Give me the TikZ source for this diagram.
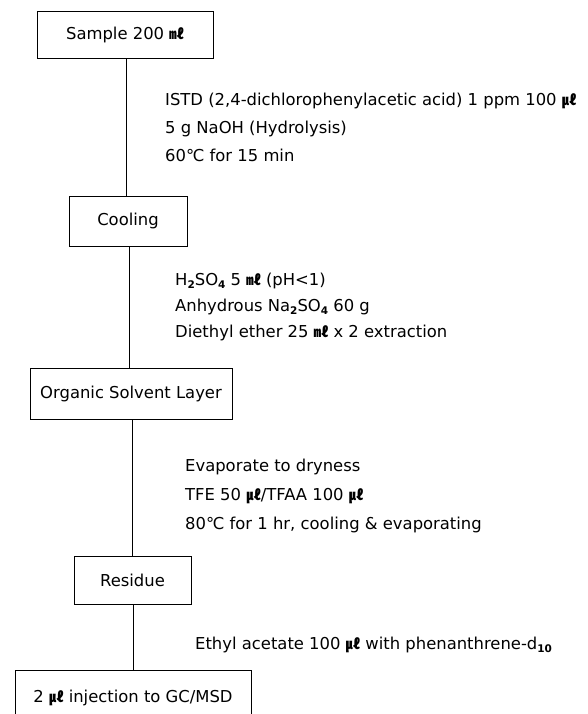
\documentclass[tikz,border=0pt]{standalone}
\usepackage{fontspec}
\setmainfont{DejaVu Sans}
\newfontfamily\cjk{Noto Sans CJK KR}
\newcommand{\ml}{{\cjk\bfseries\fontsize{14.5}{14.5}\selectfont ㎖}}
\newcommand{\ul}{{\cjk\bfseries\fontsize{14.5}{14.5}\selectfont ㎕}}
\newcommand{\mysb}[1]{\raisebox{-3.5pt}{\fontsize{10.5}{10.5}\selectfont\bfseries #1}}
\begin{document}
\begin{tikzpicture}[x=1pt,y=-1pt,
  every node/.style={font=\fontsize{16.4}{19}\selectfont},
  stepbox/.style={draw=black,line width=0.95pt,inner sep=0pt,anchor=center},
  note/.style={anchor=base west,inner sep=0pt},
  conn/.style={draw=black,line width=0.9pt}]
\useasboundingbox (0,0) rectangle (588,714);
\fill[white] (0,0) rectangle (588,714);
\clip (0,0) rectangle (588,714);

\node[stepbox,minimum width=176pt,minimum height=47pt] (sample) at (125,34.5) {Sample 200 \ml};
\node[stepbox,minimum width=118pt,minimum height=50pt] (cool) at (128,221) {Cooling};
\node[stepbox,minimum width=202pt,minimum height=51pt] (org) at (131,393.5) {Organic Solvent Layer};
\node[stepbox,minimum width=117pt,minimum height=48pt] (res) at (132.5,580) {Residue};
\node[stepbox,minimum width=236pt,minimum height=56pt] (gc) at (133,698) {2 \ul\ injection to GC/MSD};

\draw[conn] (sample.south -| 126,0) -- (cool.north -| 126,0);
\draw[conn] (cool.south -| 129,0) -- (org.north -| 129,0);
\draw[conn] (org.south -| 132,0) -- (res.north -| 132,0);
\draw[conn] (res.south -| 133,0) -- (gc.north -| 133,0);

\node[note] (n1) at (165,106) {ISTD (2,4-dichlorophenylacetic acid) 1 ppm 100 \ul};
\node[note] (n2) at (165,134) {5 g NaOH (Hydrolysis)};
\node[note] (n3) at (165,162) {60℃ for 15 min};

\node[note] (n4) at (175,285) {H\mysb{2}SO\mysb{4} 5 \ml\ (pH<1)};
\node[note] (n5) at (175,311) {Anhydrous Na\mysb{2}SO\mysb{4} 60 g};
\node[note] (n6) at (175,337) {Diethyl ether 25 \ml\ x 2 extraction};

\node[note] (n7) at (185,471) {Evaporate to dryness};
\node[note] (n8) at (185,500) {TFE 50 \ul/TFAA 100 \ul};
\node[note] (n9) at (185,529) {80℃ for 1 hr, cooling \& evaporating};

\node[note] (n10) at (195,649) {Ethyl acetate 100 \ul\ with phenanthrene-d\mysb{10}};
\end{tikzpicture}
\end{document}
